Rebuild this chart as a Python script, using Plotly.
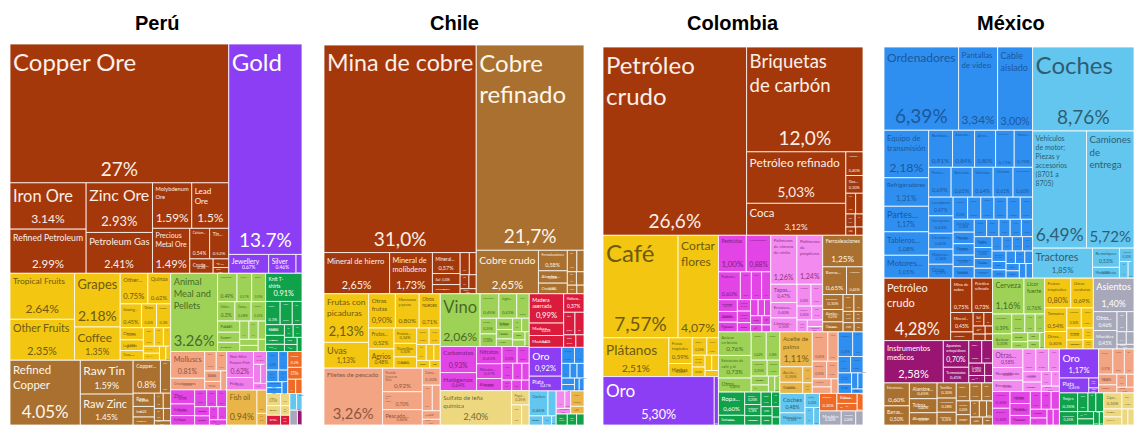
import math
import plotly.graph_objects as go

# ---------------- sector colours (fill, text) ----------------
SECTOR_COLOR = {
    "MIN": "#A4380B", "MET": "#A9702F", "PRE": "#8C3EF4", "VEG": "#F2C611",
    "ALI": "#9DD257", "ANI": "#F2A483", "PES": "#EF7EEC", "QUI": "#E244E5",
    "PLA": "#F38AF0", "SUB": "#E9B548", "TEX": "#10A24B", "MAQ": "#2F8FF1",
    "TRA": "#63C6EF", "INS": "#9A1472", "MAD": "#DB1B3C", "PAP": "#EDD880",
    "MIS": "#A7A9BA", "PIE": "#EE6A25",
}
SECTOR_TEXT = {
    "MIN": "#FBEFE8", "MET": "#FFF6EA", "PRE": "#FFFFFF", "VEG": "#6E5A12",
    "ALI": "#4A6A24", "ANI": "#8B5641", "PES": "#8A3384", "QUI": "#7D1F80",
    "PLA": "#8A3384", "SUB": "#7A5B17", "TEX": "#FFFFFF", "MAQ": "#1B589B",
    "TRA": "#2F5D73", "INS": "#FFFFFF", "MAD": "#FFFFFF", "PAP": "#77692E",
    "MIS": "#FFFFFF", "PIE": "#FFFFFF",
}

COUNTRY_TITLES = ["Perú", "Chile", "Colombia", "México"]

# ---------------- Perú ----------------
peru_sectors = (
    ["MIN"] * 13 + ["PRE"] * 4 + ["VEG"] * 19 + ["MET"] * 13 + ["ALI"] * 16 +
    ["TEX"] * 12 + ["ANI"] * 7 + ["QUI"] * 11 + ["PES"] * 6 + ["SUB"] * 3 +
    ["MAQ"] * 7 + ["PIE"] * 4 + ["PAP"] * 4 + ["MAD"] * 2 + ["TRA"] * 2 +
    ["MIS"] * 1 + ["INS"] * 1
)
peru_labels = [
    "Copper Ore", "Iron Ore", "Refined Petroleum", "Zinc Ore", "Petroleum Gas",
    "Molybdenum Ore", "Lead Ore", "Precious Metal Ore", "Calcium Phosphates",
    "Tin Ore", "Crude Petroleum", "Salt", "Coal Briquettes",
    "Gold", "Jewellery", "Silver", "Precious Metal Scraps",
    "Tropical Fruits", "Other Fruits", "Grapes", "Coffee", "Other Vegetables",
    "Quinoa", "Sowing Seeds", "Onions", "Pepper", "Citrus", "Legumes", "Corn",
    "Ginger", "Garlic", "Tea", "Nuts", "Spices", "Rice", "Flowers",
    "Refined Copper", "Raw Tin", "Raw Zinc", "Copper Wire", "Copper Foil",
    "Raw Lead", "Iron Bars", "Aluminium Plating", "Iron Structures",
    "Copper Pipes", "Zinc Sheets", "Tin Bars", "Iron Wire",
    "Animal Meal and Pellets", "Processed Fish", "Animal Food", "Cocoa Beans",
    "Other Edible Preparations", "Cocoa Paste", "Prepared Vegetables", "Pasta",
    "Sauces", "Baked Goods", "Processed Crustaceans", "Raw Sugar",
    "Fruit Juice", "Cocoa Butter", "Chocolate", "Jams",
    "Knit T-shirts", "Knit Sweaters", "Animal Hair", "Knit Women's Suits",
    "Knit Polo Shirts", "Cotton Yarn", "Non-Knit Men's Shirts",
    "Knit Babies' Garments", "Wool Yarn", "Knit Men's Suits", "Hats", "Fabrics",
    "Molluscs", "Crustaceans", "Bovine Meat", "Eggs", "Dried Fish",
    "Poultry Meat", "Milk",
    "Zinc Oxide", "Sulfuric Acid", "Fertilizers", "Packaged Medicaments",
    "Soap", "Beauty Products", "Pigments", "Insecticides", "Dyes",
    "Cleaning Products", "Hair Products",
    "Non-fillet Frozen Fish", "Fish Fillets", "Fresh Fish", "Smoked Fish",
    "Frozen Fish", "Fish Heads",
    "Fish oil", "Vegetable Oils", "Animal Fats",
    "Mining Machinery", "Pumps", "Electric Motors", "Valves", "Computers",
    "Insulated Wire", "Engine Parts",
    "Cement", "Glass Bottles", "Ceramic Tiles", "Marble",
    "Paper Labels", "Toilet Paper", "Cardboard", "Printed Books",
    "Sawn Wood", "Wood Moldings",
    "Vehicle Parts", "Boats",
    "Furniture",
    "Medical Instruments",
]
peru_values = [
    27.0, 3.14, 2.99, 2.93, 2.41, 1.59, 1.5, 1.49, 0.54, 0.52, 0.3, 0.12, 0.08,
    13.7, 0.67, 0.46, 0.1,
    2.64, 2.35, 2.18, 1.35, 0.75, 0.62, 0.45, 0.32, 0.3, 0.25, 0.22, 0.2,
    0.18, 0.15, 0.12, 0.1, 0.1, 0.08, 0.06,
    4.05, 1.59, 1.45, 0.8, 0.3, 0.25, 0.2, 0.15, 0.12, 0.1, 0.1, 0.08, 0.06,
    3.26, 0.49, 0.37, 0.35, 0.3, 0.28, 0.25, 0.22, 0.2, 0.18, 0.15, 0.15,
    0.12, 0.1, 0.1, 0.08,
    0.91, 0.3, 0.25, 0.2, 0.18, 0.15, 0.12, 0.1, 0.1, 0.08, 0.08, 0.06,
    0.81, 0.35, 0.2, 0.18, 0.15, 0.12, 0.1,
    0.3, 0.25, 0.2, 0.18, 0.15, 0.15, 0.12, 0.12, 0.1, 0.1, 0.08,
    0.62, 0.3, 0.15, 0.12, 0.1, 0.08,
    0.94, 0.2, 0.1,
    0.2, 0.15, 0.12, 0.1, 0.08, 0.08, 0.06,
    0.2, 0.15, 0.1, 0.08,
    0.15, 0.12, 0.1, 0.08,
    0.12, 0.08,
    0.1, 0.08,
    0.1,
    0.06,
]
peru_wrap = {
    "Molybdenum Ore": "Molybdenum<br>Ore", "Lead Ore": "Lead<br>Ore",
    "Precious Metal Ore": "Precious<br>Metal Ore",
    "Animal Meal and Pellets": "Animal<br>Meal and<br>Pellets",
    "Refined Copper": "Refined<br>Copper", "Knit T-shirts": "Knit T-<br>shirts",
    "Non-fillet Frozen Fish": "Non-fillet<br>Frozen Fish",
}

# ---------------- Chile ----------------
chile_sectors = (
    ["MIN"] * 11 + ["MET"] * 11 + ["VEG"] * 17 + ["ANI"] * 9 + ["ALI"] * 14 +
    ["QUI"] * 13 + ["PAP"] * 4 + ["MAD"] * 8 + ["PRE"] * 2 + ["MAQ"] * 9 +
    ["TRA"] * 5 + ["PLA"] * 3 + ["SUB"] * 2 + ["TEX"] * 3
)
chile_labels = [
    "Mina de cobre", "Mineral de hierro", "Mineral de molibdeno",
    "Mineral de metales preciosos", "Sal", "Petróleo refinado",
    "Mineral de zinc", "Yeso", "Carbón", "Cal", "Azufre",
    "Cobre refinado", "Cobre crudo", "Ferroaleaciones", "Alambre de cobre",
    "Chatarra de cobre", "Barras de hierro", "Aluminio", "Tubos de cobre",
    "Estructuras de hierro", "Chatarra de hierro", "Alambre de hierro",
    "Frutas con picaduras", "Uvas", "Otras frutas", "Manzanas y peras",
    "Otros nueces", "Frutas congeladas", "Agrios", "Frutos secos", "Semillas",
    "Otras verduras", "Legumbres", "Maíz", "Cebollas", "Avena", "Flores",
    "Especias", "Trigo",
    "Filetes de pescado", "Pescado fresco no filete", "Carne de cerdo",
    "Pescado congelado no filete", "Carne de ave", "Moluscos", "Carne bovina",
    "Crustáceos", "Leche",
    "Vino", "Preparados de pescado", "Jugos de frutas", "Harina de pescado",
    "Frutas en conserva", "Alimento para animales", "Salsas", "Licores",
    "Chocolate", "Pasta", "Azúcar", "Verduras en conserva",
    "Productos de panadería", "Mermeladas",
    "Carbonatos", "Halógenos", "Nitratos", "Nitrato de potasio", "Abonos",
    "Medicamentos envasados", "Óxido de molibdeno", "Metanol", "Insecticidas",
    "Jabón", "Pigmentos", "Productos de belleza", "Sulfatos",
    "Sulfato de leña química", "Papel kraft", "Cartón", "Papel periódico",
    "Madera aserrada", "Madera en bruto", "Madera contrachapada",
    "Molduras de madera", "Astillas de madera", "Tableros de fibra",
    "Ventanas de madera", "Carbón vegetal",
    "Oro", "Plata",
    "Bombas", "Maquinaria de minería", "Motores eléctricos", "Válvulas",
    "Ordenadores", "Equipo de transmisión", "Cable aislado",
    "Partes de motores", "Grúas",
    "Coches", "Partes de vehículos", "Barcos", "Remolques", "Aviones",
    "Envases de plástico", "Láminas de plástico", "Neumáticos",
    "Aceite de pescado", "Aceite de colza",
    "Ropa usada", "Lana", "Telas",
]
chile_values = [
    31.0, 2.65, 1.73, 0.57, 0.3, 0.25, 0.2, 0.15, 0.12, 0.1, 0.08,
    21.7, 2.65, 0.58, 0.35, 0.3, 0.2, 0.15, 0.12, 0.1, 0.08, 0.06,
    2.13, 1.13, 0.90, 0.80, 0.71, 0.52, 0.48, 0.34, 0.3, 0.25, 0.2, 0.18,
    0.15, 0.12, 0.1, 0.1, 0.08,
    3.26, 0.92, 0.70, 0.6, 0.3, 0.25, 0.2, 0.15, 0.1,
    2.06, 0.45, 0.43, 0.3, 0.25, 0.2, 0.18, 0.15, 0.12, 0.12, 0.1, 0.1,
    0.08, 0.06,
    0.93, 0.64, 0.43, 0.37, 0.3, 0.25, 0.2, 0.18, 0.15, 0.12, 0.1, 0.1, 0.08,
    2.4, 0.25, 0.2, 0.15,
    0.99, 0.42, 0.40, 0.37, 0.25, 0.2, 0.15, 0.1,
    0.92, 0.47,
    0.2, 0.15, 0.12, 0.1, 0.1, 0.08, 0.08, 0.06, 0.06,
    0.46, 0.2, 0.12, 0.08, 0.04,
    0.15, 0.1, 0.08,
    0.2, 0.1,
    0.12, 0.1, 0.08,
]
chile_wrap = {
    "Cobre refinado": "Cobre<br>refinado",
    "Mineral de molibdeno": "Mineral de<br>molibdeno",
    "Frutas con picaduras": "Frutas con<br>picaduras",
    "Otras frutas": "Otras<br>frutas", "Manzanas y peras": "Manzanas<br>y peras",
    "Otros nueces": "Otros<br>nueces", "Madera aserrada": "Madera<br>aserrada",
    "Sulfato de leña química": "Sulfato de leña<br>química",
    "Pescado fresco no filete": "Pescado<br>fresco no<br>filete",
    "Carne de cerdo": "Carne<br>de<br>cerdo",
}

# ---------------- Colombia ----------------
colombia_sectors = (
    ["MIN"] * 12 + ["VEG"] * 12 + ["PRE"] * 2 + ["QUI"] * 19 + ["PLA"] * 12 +
    ["MET"] * 12 + ["ALI"] * 11 + ["TEX"] * 11 + ["SUB"] * 5 + ["ANI"] * 7 +
    ["MAQ"] * 9 + ["TRA"] * 5 + ["PIE"] * 4 + ["MIS"] * 3
)
colombia_labels = [
    "Petróleo crudo", "Briquetas de carbón", "Petróleo refinado", "Coca",
    "Alquitrán de carbón", "Gas de petróleo", "Mineral de metales preciosos",
    "Cemento", "Sal", "Yeso", "Arcilla", "Azufre",
    "Café", "Cortar flores", "Plátanos", "Frutas tropicales", "Hierbas",
    "Otras frutas", "Verduras", "Semillas", "Legumbres", "Plantas vivas",
    "Maíz", "Arroz",
    "Oro", "Plata",
    "Pesticidas", "Medicamentos envasados", "Productos de belleza", "Jabón",
    "Pinturas", "Perfumes", "Productos para el cabello", "Abonos",
    "Pigmentos", "Colorantes", "Vacunas", "Ácidos", "Adhesivos", "Explosivos",
    "Alcoholes", "Gelatina", "Sales", "Tintas", "Fertilizantes",
    "Polímeros de cloruro de vinilo", "Polímeros de propileno",
    "Tapas de plástico", "Envases de plástico", "Láminas de plástico",
    "Neumáticos", "Tubos de plástico", "Polímeros de etileno",
    "Artículos de plástico", "Caucho", "Bolsas", "Mangueras",
    "Ferroaleaciones", "Barras de hierro", "Aluminio", "Estructuras de hierro",
    "Alambre de cobre", "Chatarra de hierro", "Tubos de hierro",
    "Chatarra de cobre", "Tornillos", "Cables de hierro", "Herramientas",
    "Chatarra de aluminio",
    "Azúcar en bruto", "Extractos de café y té", "Otros azúcares",
    "Otros alimentos", "Productos de panadería", "Chocolate", "Dulces",
    "Alimento para animales", "Salsas", "Licores", "Jugos",
    "Ropa interior", "Sostenes", "Trajes de baño", "Pantalones", "Camisetas",
    "Telas", "Hilo", "Medias", "Suéteres", "Vestidos", "Toallas",
    "Aceite de palma", "Aceite de palmiste", "Grasas animales", "Margarina",
    "Ceras",
    "Carne bovina", "Pescado", "Bovinos", "Crustáceos", "Huevos", "Leche",
    "Carne de ave",
    "Bombas", "Ordenadores", "Cable aislado", "Motores", "Válvulas",
    "Transformadores", "Baterías", "Refrigeradores", "Partes",
    "Coches", "Motocicletas", "Partes de vehículos", "Barcos", "Autobuses",
    "Botellas de vidrio", "Baldosas de cerámica", "Vidrio", "Mármol",
    "Muebles", "Colchones", "Juguetes",
]
colombia_values = [
    26.6, 12.0, 5.03, 3.12, 0.4, 0.3, 0.2, 0.15, 0.12, 0.1, 0.08, 0.06,
    7.57, 4.07, 2.51, 0.59, 0.3, 0.25, 0.2, 0.15, 0.12, 0.1, 0.1, 0.08,
    5.3, 0.2,
    1.00, 0.88, 0.6, 0.3, 0.28, 0.25, 0.22, 0.2, 0.18, 0.15, 0.15, 0.12,
    0.12, 0.1, 0.1, 0.1, 0.08, 0.08, 0.06,
    1.26, 1.24, 0.47, 0.4, 0.36, 0.3, 0.25, 0.2, 0.15, 0.12, 0.1, 0.08,
    1.25, 0.65, 0.45, 0.3, 0.25, 0.2, 0.18, 0.15, 0.12, 0.1, 0.1, 0.08,
    0.76, 0.73, 0.45, 0.42, 0.38, 0.25, 0.2, 0.15, 0.12, 0.1, 0.08,
    0.6, 0.25, 0.2, 0.18, 0.15, 0.15, 0.12, 0.1, 0.1, 0.08, 0.06,
    1.11, 0.35, 0.25, 0.15, 0.1,
    0.45, 0.3, 0.25, 0.2, 0.15, 0.12, 0.1,
    0.35, 0.25, 0.2, 0.2, 0.15, 0.12, 0.1, 0.08, 0.05,
    0.48, 0.3, 0.2, 0.15, 0.1,
    0.3, 0.2, 0.15, 0.1,
    0.3, 0.2, 0.1,
]
colombia_wrap = {
    "Petróleo crudo": "Petróleo<br>crudo",
    "Briquetas de carbón": "Briquetas<br>de carbón",
    "Cortar flores": "Cortar<br>flores", "Aceite de palma": "Aceite de<br>palma",
    "Polímeros de cloruro de vinilo": "Polímeros<br>de cloruro<br>de vinilo",
    "Polímeros de propileno": "Polímeros<br>de<br>propileno",
    "Azúcar en bruto": "Azúcar<br>en bruto",
    "Extractos de café y té": "Extractos de<br>café y té",
    "Frutas tropicales": "Frutas<br>tropicales",
}

# ---------------- México ----------------
mexico_sectors = (
    ["MAQ"] * 57 + ["TRA"] * 9 + ["MIN"] * 11 + ["INS"] * 9 + ["MET"] * 18 +
    ["ALI"] * 12 + ["VEG"] * 10 + ["PLA"] * 11 + ["MIS"] * 8 + ["QUI"] * 12 +
    ["PRE"] * 4 + ["ANI"] * 8 + ["TEX"] * 9 + ["PAP"] * 6
)
mexico_labels = [
    "Ordenadores", "Pantallas de video", "Cable aislado",
    "Equipo de transmisión", "Refrigeradores", "Partes de máquinas de oficina",
    "Tableros de control eléctrico", "Motores eléctricos", "Bombas de aire",
    "Aparatos eléctricos", "Aires acondicionados", "Circuitos integrados",
    "Motores de combustión", "Partes de motores eléctricos", "Baterías",
    "Válvulas", "Teléfonos", "Transformadores", "Lavadoras", "Interruptores",
    "Calentadores", "Máquinas de oficina", "Grúas", "Hornos",
    "Bombas de líquido", "Centrifugadoras", "Ventiladores",
    "Hornos microondas", "Motores de explosión", "Cojinetes", "Aspiradoras",
    "Micrófonos", "Diodos", "Condensadores", "Resistencias", "Llaves",
    "Impresoras", "Cámaras", "Ascensores", "Generadores", "Secadoras",
    "Fusibles", "Altavoces", "Compresores",
    "Hornos industriales", "Lavavajillas", "Tornos", "Robots industriales",
    "Cajas registradoras", "Excavadoras", "Rectificadores", "Antenas",
    "Enchufes", "Reguladores", "Sensores", "Timbres", "Amplificadores",
    "Coches", "Vehículos de motor; Piezas y accesorios (8701 a 8705)",
    "Camiones de entrega", "Tractores", "Remolques", "Motocicletas",
    "Autobuses", "Aviones", "Barcos",
    "Petróleo crudo", "Mina de cobre", "Petróleo refinado", "Mineral de zinc",
    "Mineral de plomo", "Sal", "Cemento", "Yeso", "Fluorita",
    "Gas de petróleo", "Azufre",
    "Instrumentos medicos", "Aparatos ortopédicos", "Termostatos",
    "Otros instrumentos", "Instrumentos de medición", "Lentes", "Relojes",
    "Fibra óptica", "Medidores",
    "Estructuras de hierro", "Barras de hierro", "Alambre de hierro",
    "Tubos de hierro", "Aluminio", "Tornillos", "Herramientas",
    "Chatarra de hierro", "Cobre refinado", "Barras de acero",
    "Laminados de hierro", "Cerraduras", "Resortes", "Tubos de cobre",
    "Zinc en bruto", "Plomo", "Cuchillos", "Clavos",
    "Cerveza", "Licor fuerte", "Productos de panadería", "Azúcar", "Salsas",
    "Chocolate", "Jugos", "Dulces", "Alimento para animales", "Agua",
    "Extractos de café", "Vinagre",
    "Frutas tropicales", "Otras verduras", "Tomates", "Otras frutas",
    "Pimientos", "Agrios", "Cebollas", "Legumbres", "Flores", "Semillas",
    "Otras piezas de plástico", "Neumáticos", "Envases de plástico",
    "Tubos de plástico", "Láminas de plástico", "Mangueras",
    "Polímeros de etileno", "Juntas de caucho", "Bolsas", "Tapas", "Caucho",
    "Asientos", "Otros muebles", "Muebles", "Juguetes", "Lámparas",
    "Colchones", "Bolígrafos", "Cepillos",
    "Medicamentos envasados", "Productos de belleza", "Jabón", "Pinturas",
    "Fluoruros", "Pigmentos", "Insecticidas", "Adhesivos", "Perfumes",
    "Abonos", "Ácidos", "Tintas",
    "Oro", "Plata", "Joyería", "Platino",
    "Carne bovina", "Crustáceos", "Carne de cerdo", "Miel", "Pescado",
    "Huevos", "Leche", "Carne de ave",
    "Trajes", "Pantalones", "Camisetas", "Telas", "Alfombras",
    "Ropa interior", "Hilo", "Calcetines", "Cinturones",
    "Cajas de papel", "Papel higiénico", "Etiquetas", "Libros", "Cartón",
    "Papel kraft",
]
mexico_values = [
    6.39, 3.34, 3.00, 2.18, 1.31, 1.17, 1.08, 1.05, 0.91, 0.84, 0.80, 0.71,
    0.70, 0.69, 0.65, 0.64, 0.61, 0.60, 0.47, 0.44, 0.4, 0.38, 0.35, 0.33,
    0.3, 0.3, 0.28, 0.25, 0.25, 0.22, 0.2, 0.2, 0.18, 0.15, 0.15, 0.12,
    0.1, 0.1, 0.3, 0.25, 0.2, 0.15, 0.12, 0.1,
    0.3, 0.28, 0.25, 0.22, 0.2, 0.2, 0.18, 0.15, 0.15, 0.12, 0.12, 0.1, 0.1,
    8.76, 6.49, 5.72, 1.85, 0.53, 0.3, 0.2, 0.15, 0.1,
    4.28, 0.75, 0.73, 0.45, 0.2, 0.15, 0.12, 0.1, 0.08, 0.06, 0.05,
    2.58, 0.70, 0.41, 0.3, 0.25, 0.2, 0.12, 0.1, 0.06,
    0.6, 0.5, 0.45, 0.4, 0.35, 0.3, 0.28, 0.25, 0.25, 0.2, 0.22, 0.2,
    0.15, 0.15, 0.12, 0.1, 0.1, 0.08,
    1.16, 0.76, 0.39, 0.3, 0.25, 0.2, 0.18, 0.15, 0.12, 0.1, 0.1, 0.08,
    0.80, 0.69, 0.54, 0.40, 0.3, 0.25, 0.2, 0.15, 0.12, 0.1,
    0.58, 0.4, 0.35, 0.3, 0.3, 0.25, 0.2, 0.18, 0.15, 0.12, 0.1,
    1.40, 0.46, 0.45, 0.2, 0.15, 0.12, 0.1, 0.08,
    0.3, 0.3, 0.25, 0.25, 0.2, 0.2, 0.18, 0.15, 0.15, 0.12, 0.1, 0.1,
    1.17, 0.45, 0.1, 0.05,
    0.37, 0.3, 0.25, 0.2, 0.15, 0.13, 0.1, 0.1,
    0.35, 0.25, 0.2, 0.15, 0.15, 0.12, 0.1, 0.08, 0.06,
    0.3, 0.2, 0.15, 0.15, 0.1, 0.1,
]
mexico_wrap = {
    "Pantallas de video": "Pantallas<br>de video", "Cable aislado": "Cable<br>aislado",
    "Equipo de transmisión": "Equipo de<br>transmisión",
    "Vehículos de motor; Piezas y accesorios (8701 a 8705)":
        "Vehículos<br>de motor;<br>Piezas y<br>accesorios<br>(8701 a<br>8705)",
    "Camiones de entrega": "Camiones<br>de<br>entrega",
    "Petróleo crudo": "Petróleo<br>crudo", "Instrumentos medicos": "Instrumentos<br>medicos",
    "Licor fuerte": "Licor<br>fuerte", "Frutas tropicales": "Frutas<br>tropicales",
    "Otras verduras": "Otras<br>verduras", "Mina de cobre": "Mina de<br>cobre",
    "Petróleo refinado": "Petróleo<br>refinado",
    "Aparatos ortopédicos": "Aparatos<br>ortopédicos",
}

# panel placement
FIG_W, FIG_H = 1134, 425
PANEL_PX = [(10, 302, 44), (324, 584, 45), (603, 863, 47), (884, 1134, 47)]
TITLE_PX = [157, 454, 733, 1011]
FONT = "Lato, 'Open Sans', sans-serif"
PHI = (1 + 5 ** 0.5) / 2


def fmt_en(v):
    return f"{v:.3g}%"


def fmt_es(v):
    s = f"{v:.1f}" if v >= 10 else f"{v:.2f}"
    return s.replace(".", ",") + "%"


def squarify_sizes(vals, w, h, ratio=PHI):
    """Approximate box sizes (w, h) the d3 squarify tiling gives; used only
    to choose font sizes."""
    order = sorted(range(len(vals)), key=lambda i: -vals[i])
    v = [vals[i] for i in order]
    out = [None] * len(vals)
    x0, y0, x1, y1 = 0.0, 0.0, float(w), float(h)
    value = sum(v)
    i0 = i1 = 0
    n = len(v)
    while i0 < n:
        dx, dy = x1 - x0, y1 - y0
        s = v[i1]
        i1 += 1
        mn = mx = s
        alpha = max(dy / dx, dx / dy) / (value * ratio) if dx > 0 and dy > 0 else 1
        beta = s * s * alpha
        minr = max(mx / beta, beta / mn)
        while i1 < n:
            nv = v[i1]
            s2 = s + nv
            mn2, mx2 = min(mn, nv), max(mx, nv)
            beta = s2 * s2 * alpha
            nr = max(mx2 / beta, beta / mn2)
            if nr > minr:
                break
            s, mn, mx, minr = s2, mn2, mx2, nr
            i1 += 1
        if dx < dy:
            rh = dy * s / value
            for j in range(i0, i1):
                out[order[j]] = (dx * v[j] / s, rh)
            y0 += rh
        else:
            rw = dx * s / value
            for j in range(i0, i1):
                out[order[j]] = (rw, dy * v[j] / s)
            x0 += rw
        value -= s
        i0 = i1
    return out


def leaf_sizes(sectors, values, W, H):
    sec_order = list(dict.fromkeys(sectors))
    totals = [sum(v for s, v in zip(sectors, values) if s == k) for k in sec_order]
    srect = squarify_sizes(totals, W, H)
    res = [None] * len(values)
    for k, (sw, sh) in zip(sec_order, srect):
        idx = [i for i, s in enumerate(sectors) if s == k]
        sub = squarify_sizes([values[i] for i in idx], sw, sh)
        for i, r in zip(idx, sub):
            res[i] = r
    return res


def fit_name(text, w, h, frac):
    lines = text.split("<br>")
    L = max(len(x) for x in lines)
    sw = (w - 6) / (0.46 * L)
    sh = h * frac / (1.3 * len(lines))
    return min(24, sw, sh)


def make_treemaps(sectors, labels, values, fmt, wrap, px):
    assert len(sectors) == len(labels) == len(values), (len(sectors), len(labels), len(values))
    x0p, x1p, top = px
    W, H = x1p - x0p, FIG_H - top
    boxes = leaf_sizes(sectors, values, W, H)
    sec_order = list(dict.fromkeys(sectors))
    ns = len(sec_order)
    ids = sec_order + [f"{s}/{l}" for s, l in zip(sectors, labels)]
    lbls = sec_order + list(labels)
    parents = [""] * ns + list(sectors)
    vals = [0] * ns + list(values)
    colors = [SECTOR_COLOR[s] for s in sec_order] + [SECTOR_COLOR[s] for s in sectors]
    tcol = [SECTOR_TEXT[s] for s in sec_order] + [SECTOR_TEXT[s] for s in sectors]
    lw = [2.0] * ns + [0.8] * len(values)

    names, nsize, pcts, psize = [], [], [], []
    for l, v, (bw, bh) in zip(labels, values, boxes):
        t = wrap.get(l, l)
        s = fit_name(t, bw, bh, 0.46)
        if s < 5 and " " in l and l not in wrap:
            t = l.split(" ")[0] + "..."
            s = fit_name(t, bw, bh, 0.46)
        names.append(t)
        nsize.append(max(s, 1.5))
        p = fmt(v)
        ps = min(19, (bw - 4) / (0.55 * len(p)), bh * 0.3 / 1.15)
        pcts.append(p)
        psize.append(max(ps, 1.5))

    xdom = [x0p / FIG_W, x1p / FIG_W]
    ydom = [0, 1 - top / FIG_H]
    common = dict(
        ids=ids, labels=lbls, parents=parents, values=vals,
        branchvalues="remainder", sort=True,
        tiling=dict(packing="squarify", squarifyratio=PHI, pad=0),
        pathbar=dict(visible=False), hoverinfo="skip",
        domain=dict(x=xdom, y=ydom),
    )
    f1 = dict(family=FONT, size=[1] * ns + nsize, color=tcol)
    t1 = go.Treemap(
        **common, customdata=[""] * ns + names, texttemplate="%{customdata}",
        textposition="top left", textfont=f1, insidetextfont=f1,
        marker=dict(colors=colors, line=dict(color="white", width=lw),
                    pad=dict(t=0, l=0, r=0, b=0)),
        root=dict(color="white"),
    )
    f2 = dict(family=FONT, size=[1] * ns + psize, color=tcol)
    t2 = go.Treemap(
        **common, customdata=[""] * ns + pcts, texttemplate="%{customdata}",
        textposition="bottom center", textfont=f2, insidetextfont=f2,
        marker=dict(colors=["rgba(0,0,0,0)"] * len(ids),
                    line=dict(color="rgba(0,0,0,0)", width=0),
                    pad=dict(t=0, l=0, r=0, b=0)),
        root=dict(color="rgba(0,0,0,0)"),
    )
    return [t1, t2]


fig = go.Figure()
data_sets = [
    (peru_sectors, peru_labels, peru_values, fmt_en, peru_wrap),
    (chile_sectors, chile_labels, chile_values, fmt_es, chile_wrap),
    (colombia_sectors, colombia_labels, colombia_values, fmt_es, colombia_wrap),
    (mexico_sectors, mexico_labels, mexico_values, fmt_es, mexico_wrap),
]
for i, (s, l, v, f, w) in enumerate(data_sets):
    for tr in make_treemaps(s, l, v, f, w, PANEL_PX[i]):
        fig.add_trace(tr)

for i, t in enumerate(COUNTRY_TITLES):
    fig.add_annotation(text=f"<b>{t}</b>", x=TITLE_PX[i] / FIG_W, y=1 - 23 / FIG_H,
                       xref="paper", yref="paper", xanchor="center", yanchor="middle",
                       showarrow=False,
                       font=dict(family="Liberation Sans, Arial, sans-serif", size=20, color="#000000"))

fig.update_layout(width=FIG_W, height=FIG_H, margin=dict(l=0, r=0, t=0, b=0),
                  paper_bgcolor="white", showlegend=False)
fig.write_html("out.html")
